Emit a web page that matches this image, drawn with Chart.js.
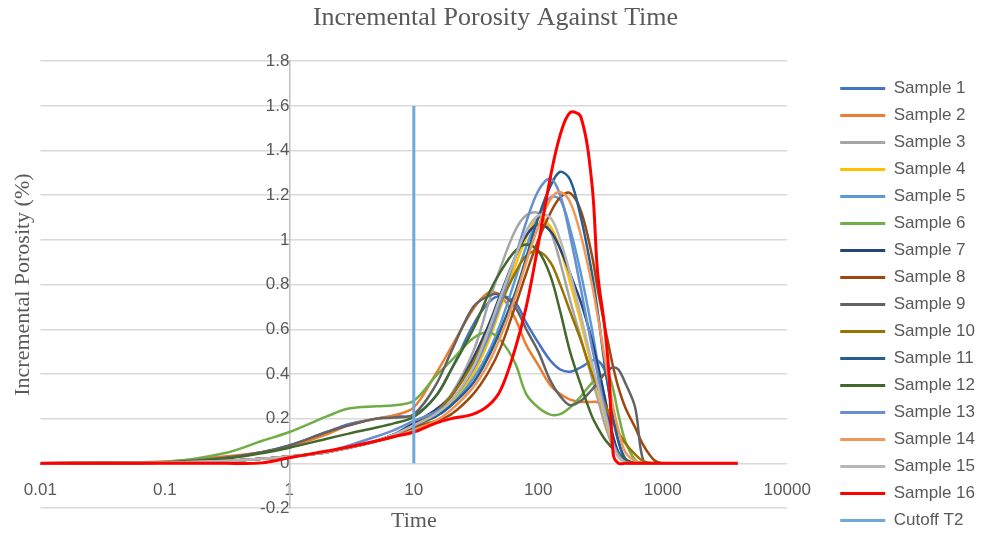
<!DOCTYPE html>
<html>
<head>
<meta charset="utf-8">
<title>Incremental Porosity Against Time</title>
<script src="https://cdn.jsdelivr.net/npm/chart.js"></script>
<style>
  html, body { margin: 0; padding: 0; background: #fff; }
  #wrap { width: 985px; height: 536px; }
</style>
</head>
<body>
<div id="wrap"><canvas id="chart" width="985" height="536"></canvas></div>
<script>
// T2 times shared by every sample
var times = [0.01, 0.1, 0.3, 0.6, 1, 2, 3, 5, 7, 10,
             15, 20, 30, 40, 50, 65, 80, 100, 125, 150,
             180, 220, 270, 300, 340, 370, 400, 440, 500, 600,
             700, 850, 1000, 4000];

var sample1 = [0, 0.005, 0.025, 0.05, 0.08, 0.14, 0.175, 0.2, 0.21, 0.215,
               0.3, 0.42, 0.62, 0.72, 0.75, 0.72, 0.63, 0.54, 0.46, 0.42,
               0.41, 0.43, 0.46, 0.46, 0.42, 0.32, 0.2, 0.1, 0.02, 0,
               0, 0, 0, 0];
var sample2 = [0, 0.008, 0.03, 0.05, 0.075, 0.13, 0.17, 0.2, 0.215, 0.25,
               0.4, 0.52, 0.69, 0.765, 0.75, 0.65, 0.53, 0.44, 0.35, 0.31,
               0.285, 0.275, 0.275, 0.274, 0.24, 0.17, 0.1, 0.04, 0.005, 0,
               0, 0, 0, 0];
var sample3 = [0, 0.003, 0.01, 0.02, 0.03, 0.05, 0.07, 0.1, 0.13, 0.18,
               0.24, 0.31, 0.5, 0.72, 0.88, 1.04, 1.11, 1.12, 1.04, 0.9,
               0.73, 0.56, 0.38, 0.29, 0.18, 0.12, 0.07, 0.03, 0.005, 0,
               0, 0, 0, 0];
var sample4 = [0, 0.003, 0.01, 0.02, 0.03, 0.05, 0.07, 0.1, 0.12, 0.16,
               0.21, 0.27, 0.4, 0.55, 0.7, 0.88, 1.01, 1.1, 1.06, 0.96,
               0.81, 0.63, 0.43, 0.33, 0.22, 0.14, 0.08, 0.03, 0.005, 0,
               0, 0, 0, 0];
var sample5 = [0, 0.003, 0.01, 0.02, 0.03, 0.05, 0.07, 0.1, 0.13, 0.17,
               0.21, 0.26, 0.38, 0.5, 0.63, 0.82, 0.97, 1.1, 1.19, 1.18,
               1.05, 0.85, 0.6, 0.45, 0.3, 0.2, 0.1, 0.04, 0.005, 0,
               0, 0, 0, 0];
var sample6 = [0, 0.006, 0.045, 0.1, 0.14, 0.21, 0.245, 0.255, 0.26, 0.28,
               0.39, 0.46, 0.56, 0.587, 0.55, 0.45, 0.31, 0.25, 0.218, 0.22,
               0.25, 0.3, 0.36, 0.38, 0.4, 0.39, 0.33, 0.22, 0.1, 0.015,
               0, 0, 0, 0];
var sample7 = [0, 0.003, 0.01, 0.02, 0.03, 0.05, 0.07, 0.1, 0.13, 0.18,
               0.24, 0.3, 0.47, 0.62, 0.76, 0.92, 1.02, 1.07, 1.04, 0.96,
               0.85, 0.72, 0.55, 0.44, 0.3, 0.2, 0.12, 0.05, 0.01, 0,
               0, 0, 0, 0];
var sample8 = [0, 0.003, 0.01, 0.02, 0.03, 0.05, 0.07, 0.1, 0.12, 0.16,
               0.19, 0.22, 0.31, 0.41, 0.52, 0.7, 0.85, 1.0, 1.12, 1.19,
               1.21, 1.13, 0.93, 0.78, 0.62, 0.52, 0.43, 0.34, 0.25, 0.16,
               0.08, 0.015, 0, 0];
var sample9 = [0, 0.005, 0.025, 0.05, 0.08, 0.14, 0.17, 0.2, 0.205, 0.22,
               0.35, 0.5, 0.7, 0.75, 0.755, 0.7, 0.6, 0.5, 0.37, 0.3,
               0.26, 0.28, 0.33, 0.36, 0.4, 0.42, 0.43, 0.42, 0.36, 0.25,
               0.01, 0, 0, 0];
var sample10 = [0, 0.003, 0.01, 0.02, 0.03, 0.05, 0.07, 0.1, 0.13, 0.17,
                0.23, 0.3, 0.45, 0.6, 0.72, 0.85, 0.93, 0.95, 0.9, 0.8,
                0.68, 0.55, 0.4, 0.34, 0.27, 0.22, 0.18, 0.14, 0.09, 0.04,
                0.01, 0, 0, 0];
var sample11 = [0, 0.003, 0.01, 0.02, 0.03, 0.05, 0.07, 0.1, 0.13, 0.17,
                0.21, 0.26, 0.36, 0.48, 0.6, 0.76, 0.92, 1.1, 1.24, 1.305,
                1.27, 1.1, 0.85, 0.68, 0.45, 0.32, 0.2, 0.1, 0.02, 0,
                0, 0, 0, 0];
var sample12 = [0, 0.004, 0.02, 0.045, 0.07, 0.11, 0.133, 0.16, 0.18, 0.207,
                0.3, 0.42, 0.6, 0.76, 0.86, 0.95, 0.98, 0.95, 0.84, 0.68,
                0.5, 0.35, 0.21, 0.16, 0.11, 0.085, 0.065, 0.045, 0.015, 0,
                0, 0, 0, 0];
var sample13 = [0, 0.003, 0.01, 0.02, 0.03, 0.05, 0.08, 0.12, 0.15, 0.19,
                0.23, 0.28, 0.42, 0.57, 0.72, 0.92, 1.08, 1.22, 1.275, 1.2,
                1.02, 0.78, 0.52, 0.4, 0.25, 0.16, 0.09, 0.04, 0.005, 0,
                0, 0, 0, 0];
var sample14 = [0, 0.003, 0.01, 0.02, 0.03, 0.05, 0.07, 0.1, 0.12, 0.15,
                0.19, 0.24, 0.34, 0.45, 0.57, 0.74, 0.9, 1.06, 1.18, 1.215,
                1.17, 1.02, 0.8, 0.66, 0.48, 0.36, 0.25, 0.15, 0.05, 0.01,
                0, 0, 0, 0];
var sample15 = [0, 0.003, 0.01, 0.02, 0.03, 0.05, 0.07, 0.1, 0.13, 0.17,
                0.22, 0.28, 0.43, 0.6, 0.75, 0.92, 1.04, 1.11, 1.1, 1.0,
                0.85, 0.66, 0.45, 0.35, 0.23, 0.15, 0.08, 0.03, 0.005, 0,
                0, 0, 0, 0];
var sample16 = [0, 0, 0, 0.002, 0.025, 0.055, 0.073, 0.1, 0.12, 0.14,
                0.18, 0.2, 0.22, 0.26, 0.33, 0.51, 0.7, 0.98, 1.28, 1.47,
                1.57, 1.55, 1.25, 0.85, 0.62, 0.4, 0.04, 0, 0, 0,
                0, 0, 0, 0];

// cutoff T2 marker
var cutoffT2 = 10;
var cutoffRange = [0, 1.6];

var xTicks = [0.01, 0.1, 1, 10, 100, 1000, 10000];

var seriesNames = ['Sample 1', 'Sample 2', 'Sample 3', 'Sample 4', 'Sample 5', 'Sample 6',
                   'Sample 7', 'Sample 8', 'Sample 9', 'Sample 10', 'Sample 11', 'Sample 12',
                   'Sample 13', 'Sample 14', 'Sample 15', 'Sample 16'];
var seriesValues = [sample1, sample2, sample3, sample4, sample5, sample6, sample7, sample8,
                    sample9, sample10, sample11, sample12, sample13, sample14, sample15, sample16];
var seriesColors = ['#4472C4', '#ED7D31', '#A5A5A5', '#FFC000', '#5B9BD5', '#70AD47',
                    '#264478', '#9E480E', '#636363', '#997300', '#255E91', '#43682B',
                    '#698ED0', '#F1975A', '#B7B7B7', '#FF0000'];
var cutoffColor = '#70A8DA';

var textColor = '#595959';
var sans = 'Liberation Sans';
var serif = 'Liberation Serif';

var datasets = seriesValues.map(function (vals, i) {
    return {
        label: seriesNames[i],
        data: times.map(function (t, k) { return { x: t, y: vals[k] }; }),
        borderColor: seriesColors[i],
        backgroundColor: seriesColors[i],
        borderWidth: i === 15 ? 3 : 2.5,
        pointRadius: 0,
        pointHoverRadius: 0,
        pointBorderWidth: 3,
        tension: 0.35,
        order: -i,
        xAxisID: 'x',
        yAxisID: 'y'
    };
});

datasets.push({
    label: 'Cutoff T2',
    data: cutoffRange.map(function (v) { return { x: cutoffT2, y: v }; }),
    borderColor: cutoffColor,
    backgroundColor: cutoffColor,
    borderWidth: 3,
    pointRadius: 0,
    pointHoverRadius: 0,
    pointBorderWidth: 3,
    tension: 0,
    order: -16,
    xAxisID: 'x',
    yAxisID: 'y'
});

new Chart(document.getElementById('chart'), {
    type: 'line',
    data: { datasets: datasets },
    options: {
        responsive: false,
        animation: false,
        devicePixelRatio: 1,
        layout: { padding: { left: 6, right: 0, top: 0, bottom: -3 } },
        plugins: {
            title: {
                display: true,
                text: 'Incremental Porosity Against Time',
                color: textColor,
                font: { family: serif, size: 26, weight: 'normal' },
                padding: { top: 3, bottom: 27 }
            },
            legend: {
                position: 'right',
                align: 'end',
                maxWidth: 160,
                labels: {
                    usePointStyle: true,
                    pointStyle: 'line',
                    pointStyleWidth: 45,
                    color: textColor,
                    font: { family: sans, size: 17 },
                    padding: 10,
                    sort: function (a, b) { return a.datasetIndex - b.datasetIndex; }
                }
            },
            tooltip: { enabled: false }
        },
        scales: {
            x: {
                type: 'logarithmic',
                min: 0.01,
                max: 10000,
                position: { y: 0 },
                grid: { display: false },
                border: { display: false },
                ticks: {
                    autoSkip: false,
                    maxRotation: 0,
                    minRotation: 0,
                    padding: 9,
                    color: textColor,
                    font: { family: sans, size: 17 },
                    callback: function (v) { return String(v); }
                },
                afterBuildTicks: function (scale) {
                    scale.ticks = xTicks.map(function (v) { return { value: v }; });
                },
                afterFit: function (scale) { scale.height = 0; }
            },
            y: {
                type: 'linear',
                min: -0.2,
                max: 1.8,
                position: { x: 1 },
                grid: { color: '#d9d9d9', lineWidth: 1.5, drawTicks: false },
                border: { color: '#bfbfbf', width: 1.5 },
                ticks: {
                    stepSize: 0.2,
                    padding: 20,
                    color: textColor,
                    font: { family: sans, size: 17 },
                    callback: function (v) { return String(+v.toFixed(1)); }
                },
                afterFit: function (scale) {
                    scale.width = 0;
                    scale.paddingTop = 0;
                    scale.paddingBottom = 0;
                }
            },
            yTitle: {
                type: 'linear',
                position: 'left',
                grid: { display: false, drawTicks: false },
                border: { display: false },
                ticks: { display: false },
                title: {
                    display: true,
                    text: 'Incremental Porosity (%)',
                    color: textColor,
                    font: { family: serif, size: 22 },
                    padding: 4
                }
            },
            xTitle: {
                type: 'linear',
                position: 'bottom',
                grid: { display: false, drawTicks: false },
                border: { display: false },
                ticks: { display: false },
                title: {
                    display: true,
                    text: 'Time',
                    color: textColor,
                    font: { family: serif, size: 22 },
                    padding: { top: 0, bottom: 4.6 }
                }
            },
            // spacer between plot and legend
            gap: {
                type: 'linear',
                axis: 'y',
                position: 'right',
                grid: { display: false, drawTicks: false },
                border: { display: false },
                ticks: { display: false },
                afterFit: function (scale) { scale.width = 43; }
            }
        }
    }
});
</script>
</body>
</html>
